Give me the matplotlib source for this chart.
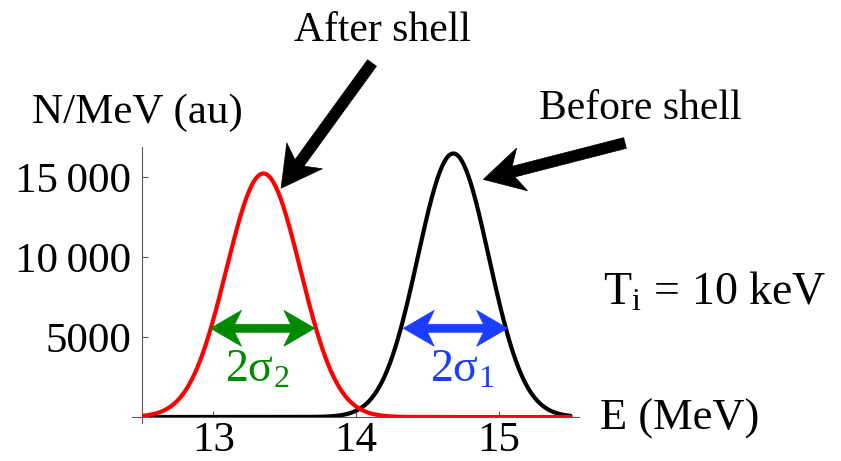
import numpy as np
import matplotlib

matplotlib.use("Agg")
import matplotlib.pyplot as plt
from matplotlib.patches import Polygon
from matplotlib.transforms import IdentityTransform
from matplotlib.ticker import FuncFormatter

# Gaussian spectra: (centre MeV, peak height au, sigma MeV)
before_centre, before_peak, before_sigma = 14.68, 16470, 0.249
after_centre, after_peak, after_sigma = 13.35, 15220, 0.259

# width markers (MeV) drawn at a common height
width_level = 5544
after_span = [12.98, 13.71]
before_span = [14.33, 15.06]

x_ticks = [13, 14, 15]
y_ticks = [5000, 10000, 15000]

W, H = 841, 461
plt.rcParams["font.family"] = ["Liberation Serif", "DejaVu Serif"]
plt.rcParams["mathtext.fontset"] = "custom"
plt.rcParams["mathtext.rm"] = "Liberation Serif"
plt.rcParams["mathtext.it"] = "Liberation Serif:italic"

fig = plt.figure(figsize=(W / 100, H / 100), dpi=100)
ax = fig.add_axes([142 / W, 44 / H, 437 / W, 270 / H])
ax.set_xlim(12.5, 15.56)
ax.set_ylim(0, 16875)

E = np.linspace(12.5, 15.5, 600)
ax.plot(E, before_peak * np.exp(-(E - before_centre) ** 2 / (2 * before_sigma ** 2)),
        color="black", lw=3, solid_capstyle="round", zorder=3)
ax.plot(E, after_peak * np.exp(-(E - after_centre) ** 2 / (2 * after_sigma ** 2)),
        color="red", lw=3, solid_capstyle="round", zorder=4)

for side in ("top", "right"):
    ax.spines[side].set_visible(False)
for side in ("left", "bottom"):
    ax.spines[side].set_color("0.35")
    ax.spines[side].set_linewidth(0.8)
ax.spines["bottom"].set_bounds(12.43, 15.56)
ax.spines["left"].set_bounds(-380, 16875)

ax.set_xticks(x_ticks)
ax.set_yticks(y_ticks)
ax.yaxis.set_major_formatter(FuncFormatter(
    lambda v, _: f"{int(v):,}".replace(",", "\u2009") if v >= 10000 else f"{int(v)}"))
ax.tick_params(direction="in", length=4, width=0.8, color="0.35", labelsize=31)
ax.tick_params(axis="y", pad=8)
ax.tick_params(axis="x", pad=3)


def px(x, y):
    # image pixel (y down) -> display coordinates
    return np.array([x, H - y], dtype=float)


def arrow(tail, tip, color, shaft=11, head_len=40, head_w=44):
    u = (tip - tail) / np.hypot(*(tip - tail))
    n = np.array([-u[1], u[0]])
    back = tip - u * head_len
    notch = tip - u * head_len * 0.78
    pts = [tail + n * shaft / 2, notch + n * shaft / 2, back + n * head_w / 2, tip,
           back - n * head_w / 2, notch - n * shaft / 2, tail - n * shaft / 2]
    fig.add_artist(Polygon(pts, closed=True, facecolor=color, edgecolor=color, lw=0.5,
                           transform=IdentityTransform(), zorder=6))


to_disp = ax.transData.transform

# width markers
for span, color in ((after_span, "#008a00"), (before_span, "#1a3dff")):
    a = to_disp((span[0], width_level))
    b = to_disp((span[1], width_level))
    mid = (a + b) / 2
    arrow(mid, a, color, shaft=8, head_len=31, head_w=36)
    arrow(mid, b, color, shaft=8, head_len=31, head_w=36)

# pointers to the two peaks
arrow(px(372, 63), to_disp((13.474, 14300)), "black")
arrow(px(625, 143), to_disp((14.89, 14850)), "black")


def label(x, y, s, color="black", size=31):
    fig.text(x / W, 1 - y / H, s, color=color, fontsize=size, ha="left", va="baseline")


label(32, 123, "N/MeV (au)")
label(294, 41, "After shell", size=30)
label(539, 119, "Before shell", size=30)
label(603, 305, r"$\mathrm{T_i\,=\,10\ keV}$", size=33)
label(600, 430, "E (MeV)", size=32)
label(225, 382, r"$\mathrm{2\sigma_2}$", color="#008a00", size=33)
label(430, 382, r"$\mathrm{2\sigma_1}$", color="#1a3dff", size=33)

fig.savefig("out.png", dpi=100)
